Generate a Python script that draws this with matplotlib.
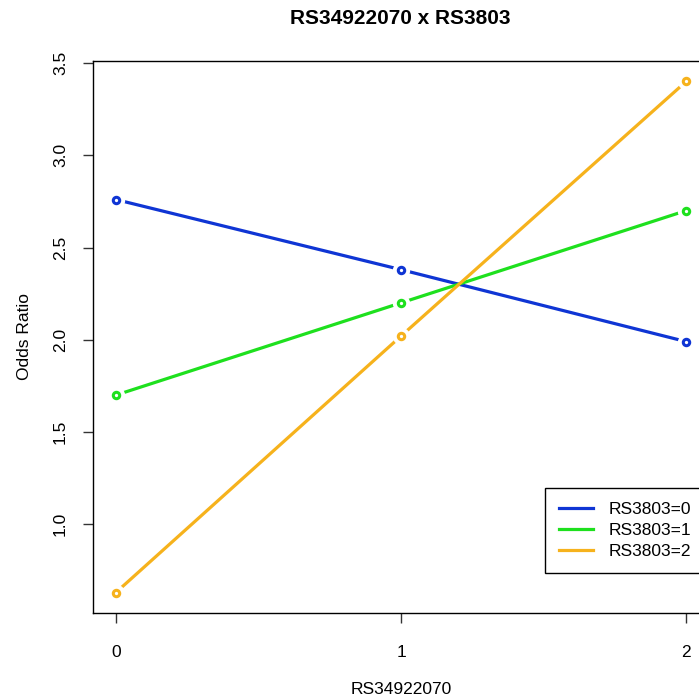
import matplotlib
matplotlib.use("Agg")
import matplotlib.pyplot as plt

plt.rcParams["font.family"] = ["Liberation Sans", "DejaVu Sans"]

genotype = [0, 1, 2]
series_labels = ["RS3803=0", "RS3803=1", "RS3803=2"]
odds_rs3803_0 = [2.76, 2.38, 1.99]
odds_rs3803_1 = [1.70, 2.20, 2.70]
odds_rs3803_2 = [0.63, 2.02, 3.40]
colors = ["#0f35d4", "#1ee01e", "#f6b21c"]

fig = plt.figure(figsize=(6.99, 7.0), dpi=100)
W, H = 699, 700
# plot region in pixels: left 93, right 709 (cut off), top 61, bottom 613
ax = fig.add_axes([93 / W, 1 - 613 / H, (709 - 93) / W, (613 - 61) / H])

all_series = [odds_rs3803_0, odds_rs3803_1, odds_rs3803_2]
for vals, col, lab in zip(all_series, colors, series_labels):
    # type="b" look: line, white gap around points, open circles
    ax.plot(genotype, vals, color=col, lw=2.3, label=lab, zorder=2)
    ax.plot(genotype, vals, ls="none", marker="o", ms=12.5, mfc="white",
            mec="none", zorder=3)
    ax.plot(genotype, vals, ls="none", marker="o", ms=4.6, mfc="none",
            mec=col, mew=2.2, zorder=4)

lo = min(min(s) for s in all_series)
hi = max(max(s) for s in all_series)
pad = (hi - lo) * 0.04
ax.set_ylim(lo - pad, hi + pad)
ax.set_xlim(-0.08, 2.08)

ax.set_xticks(genotype)
ax.set_xticklabels(["0", "1", "2"])
ax.set_yticks([1.0, 1.5, 2.0, 2.5, 3.0, 3.5])
ax.set_yticklabels(["1.0", "1.5", "2.0", "2.5", "3.0", "3.5"], rotation=90,
                   va="center")
ax.tick_params(direction="out", length=7, width=1, labelsize=12.5,
               color="#333333")
ax.tick_params(axis="x", pad=16)
ax.tick_params(axis="y", pad=11)
for s in ax.spines.values():
    s.set_linewidth(1)

ax.set_xlabel("RS34922070", fontsize=12.5, labelpad=16)
ax.set_ylabel("Odds Ratio", fontsize=12.5, labelpad=15)
fig.text(400 / W, 1 - 18 / H, "RS34922070 x RS3803", ha="center",
         va="center", fontsize=15, fontweight="bold")

leg = ax.legend(loc="lower right", bbox_to_anchor=(0.9925, 0.0725),
                fontsize=12.5, frameon=True, fancybox=False,
                edgecolor="black", framealpha=1, borderpad=0.78,
                labelspacing=0.35, handlelength=2.0, handletextpad=0.86,
                borderaxespad=0)
leg.get_frame().set_linewidth(1)

fig.savefig("out.png", dpi=100)
